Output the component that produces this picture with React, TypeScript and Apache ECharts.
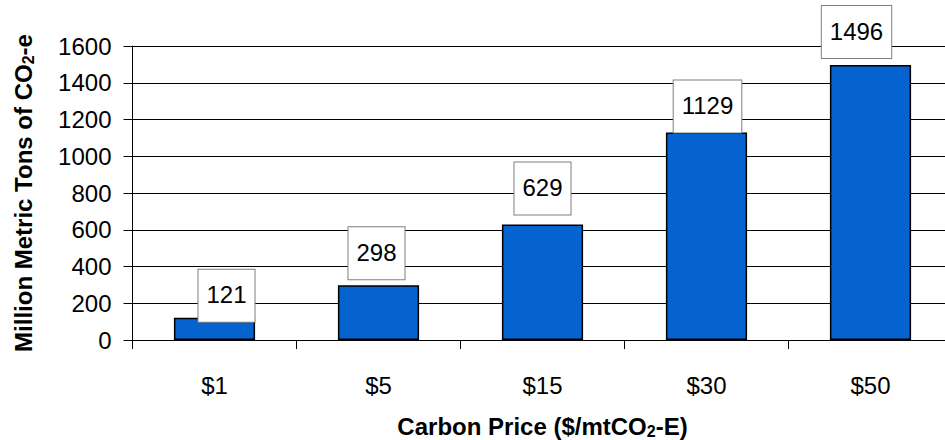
import React, { useEffect, useRef } from "react";
import * as echarts from "echarts";

const categories = ["$1", "$5", "$15", "$30", "$50"];
const values = [121, 298, 629, 1129, 1496];
const yTicks = { min: 0, max: 1600, interval: 200 };

// label box nudges (Excel labels were moved by hand)
const labelNudges: [number, number][] = [
  [12, 10],
  [-2, 0],
  [0, -4],
  [1, 6],
  [-14, -1],
];

const FONT = "'Liberation Sans', Arial, sans-serif";

export default function App() {
  const ref = useRef<HTMLDivElement>(null);
  useEffect(() => {
    if (!ref.current) return;
    const chart = echarts.init(ref.current, undefined, { renderer: "svg" });
    const titleRich = {
      b: { fontFamily: FONT, fontSize: 24, fontWeight: "bold", color: "#000", lineHeight: 26, verticalAlign: "middle" },
      sub: { fontFamily: FONT, fontSize: 16, fontWeight: "bold", color: "#000", lineHeight: 12, verticalAlign: "bottom" },
    };
    chart.setOption({
      animation: false,
      backgroundColor: "#fff",
      grid: {
        left: 132.5,
        right: -7.5,
        top: 46,
        bottom: 100,
        containLabel: false,
        outerBoundsMode: "none",
      },
      xAxis: {
        type: "category",
        data: categories,
        name: "{b|Carbon Price ($/mtCO}{sub|2}{b|-E)}",
        nameLocation: "middle",
        nameGap: 73,
        nameTextStyle: { rich: titleRich },
        axisLine: { lineStyle: { color: "#000", width: 1 } },
        axisTick: { show: true, length: 9, lineStyle: { color: "#000" } },
        axisLabel: { fontFamily: FONT, fontSize: 24, color: "#000", margin: 33 },
      },
      yAxis: {
        type: "value",
        min: yTicks.min,
        max: yTicks.max,
        interval: yTicks.interval,
        name: "{b|Million Metric Tons of CO}{sub|2}{b|-e}",
        nameLocation: "middle",
        nameGap: 96,
        nameTextStyle: { rich: titleRich },
        axisLine: { show: true, lineStyle: { color: "#000", width: 1 } },
        axisTick: { show: true, length: 9, lineStyle: { color: "#000" } },
        axisLabel: {
          fontFamily: FONT,
          fontSize: 24,
          color: "#000",
          margin: 21,
          formatter: (v: number) => String(v),
        },
        splitLine: { show: true, lineStyle: { color: "#000", width: 1 } },
      },
      series: [
        {
          type: "bar",
          barWidth: "49.5%",
          data: values.map((v, i) => ({
            value: v,
            label: { offset: labelNudges[i] },
          })),
          itemStyle: { color: "#0563CF", borderColor: "#000", borderWidth: 1.5 },
          label: {
            show: true,
            position: "top",
            distance: 6,
            fontFamily: FONT,
            fontSize: 24,
            color: "#000",
            backgroundColor: "#fff",
            borderColor: "#7f7f7f",
            borderWidth: 1,
            padding: [13, 8, 15, 8],
          },
        },
      ],
    });
    return () => chart.dispose();
  }, []);
  return (
    <div
      ref={ref}
      style={{ position: "fixed", left: 0, top: 0, width: 945, height: 440, background: "#fff" }}
    />
  );
}
